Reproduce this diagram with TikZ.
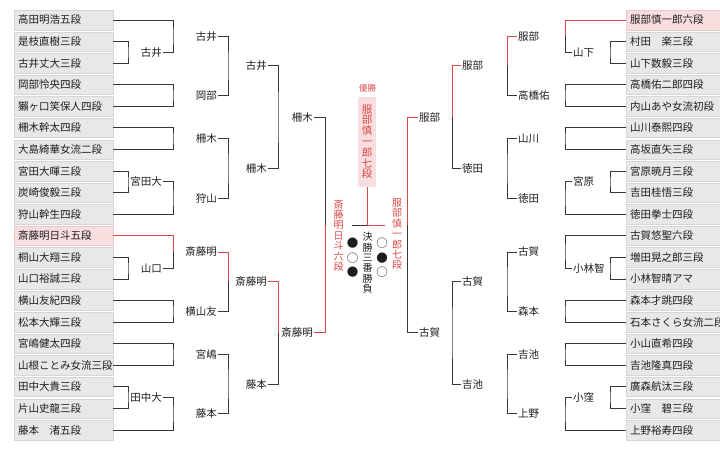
\documentclass[tikz,border=0pt]{standalone}
\usepackage{fontspec}
\setmainfont{Noto Sans CJK JP}
\usepackage{xcolor}
\definecolor{ink}{RGB}{30,30,30}
\definecolor{wire}{RGB}{55,55,55}
\definecolor{winred}{RGB}{218,72,72}
\definecolor{boxgray}{RGB}{232,232,232}
\definecolor{boxedge}{RGB}{214,214,214}
\definecolor{boxpink}{RGB}{248,222,222}
\definecolor{pinkedge}{RGB}{238,200,200}
\tikzset{
  tnbox/.style={draw=boxedge, fill=boxgray, anchor=west, minimum height=19.5pt, text width=91pt, inner sep=4pt, align=left, font=\fontsize{10.5}{12}\selectfont, text=ink},
  tnplain/.style={},
  tnwin/.style={fill=boxpink, draw=pinkedge},
  tnlabel/.style={inner sep=1pt, font=\fontsize{10.5}{12}\selectfont, text=ink},
  tnline/.style={draw=wire, line width=0.9pt},
  tnred/.style={draw=winred, line width=0.9pt},
  tntate/.style={align=center, inner sep=0pt, font=\fontsize{10}{10.4}\selectfont},
}

\begin{document}
\begin{tikzpicture}[x=1pt, y=-1pt]
  \useasboundingbox (0,0) rectangle (720,459);
  \clip (0,0) rectangle (720,459);

  % players
  \foreach \s/\t [count=\i] in {tnplain/高田明浩五段, tnplain/是枝直樹三段, tnplain/古井丈大三段, tnplain/岡部怜央四段, tnplain/獺ヶ口笑保人四段,
      tnplain/柵木幹太四段, tnplain/大島綺華女流二段, tnplain/宮田大暉三段, tnplain/炭崎俊毅三段, tnplain/狩山幹生四段,
      tnwin/斎藤明日斗五段, tnplain/桐山大翔三段, tnplain/山口裕誠三段, tnplain/横山友紀四段, tnplain/松本大輝三段,
      tnplain/宮嶋健太四段, tnplain/山根ことみ女流三段, tnplain/田中大貴三段, tnplain/片山史龍三段, tnplain/藤本　渚五段}
    \node[tnbox, \s] (L\i) at (14, {20+(\i-1)*21.58}) {\t};
  \foreach \s/\t [count=\i] in {tnwin/服部慎一郎六段, tnplain/村田　楽三段, tnplain/山下数毅三段, tnplain/高橋佑二郎四段, tnplain/内山あや女流初段,
      tnplain/山川泰熙四段, tnplain/高坂直矢三段, tnplain/宮原暁月三段, tnplain/吉田桂悟三段, tnplain/徳田拳士四段,
      tnplain/古賀悠聖六段, tnplain/増田晃之郎三段, tnplain/小林智晴アマ, tnplain/森本才跳四段, tnplain/石本さくら女流二段,
      tnplain/小山直希四段, tnplain/吉池隆真四段, tnplain/廣森航汰三段, tnplain/小窪　碧三段, tnplain/上野裕寿四段}
    \node[tnbox, \s] (R\i) at (626, {20+(\i-1)*21.58}) {\t};

  % left winners
  \node[tnlabel, anchor=east] (la1) at (163,52.4) {古井};
  \node[tnlabel, anchor=east] (la2) at (163,181.9) {宮田大};
  \node[tnlabel, anchor=east] (la3) at (163,268.2) {山口};
  \node[tnlabel, anchor=east] (la4) at (163,397.6) {田中大};
  \node[tnlabel, anchor=east] (lb1) at (218,36.2) {古井};
  \node[tnlabel, anchor=east] (lb2) at (218,95.5) {岡部};
  \node[tnlabel, anchor=east] (lb3) at (218,138.7) {柵木};
  \node[tnlabel, anchor=east] (lb4) at (218,198.05) {狩山};
  \node[tnlabel, anchor=east] (lb5) at (218,252) {斎藤明};
  \node[tnlabel, anchor=east] (lb6) at (218,311.3) {横山友};
  \node[tnlabel, anchor=east] (lb7) at (218,354.5) {宮嶋};
  \node[tnlabel, anchor=east] (lb8) at (218,413.8) {藤本};
  \node[tnlabel, anchor=east] (lc1) at (268,65.85) {古井};
  \node[tnlabel, anchor=east] (lc2) at (268,168.4) {柵木};
  \node[tnlabel, anchor=east] (lc3) at (268,281.65) {斎藤明};
  \node[tnlabel, anchor=east] (lc4) at (268,384.15) {藤本};
  \node[tnlabel, anchor=east] (ld1) at (314,117.1) {柵木};
  \node[tnlabel, anchor=east] (ld2) at (314,332.9) {斎藤明};

  % right winners
  \node[tnlabel, anchor=west] (ra1) at (572,52.4) {山下};
  \node[tnlabel, anchor=west] (ra2) at (572,181.9) {宮原};
  \node[tnlabel, anchor=west] (ra3) at (572,268.2) {小林智};
  \node[tnlabel, anchor=west] (ra4) at (572,397.6) {小窪};
  \node[tnlabel, anchor=west] (rb1) at (517,36.2) {服部};
  \node[tnlabel, anchor=west] (rb2) at (517,95.5) {高橋佑};
  \node[tnlabel, anchor=west] (rb3) at (517,138.7) {山川};
  \node[tnlabel, anchor=west] (rb4) at (517,198.05) {徳田};
  \node[tnlabel, anchor=west] (rb5) at (517,252) {古賀};
  \node[tnlabel, anchor=west] (rb6) at (517,311.3) {森本};
  \node[tnlabel, anchor=west] (rb7) at (517,354.5) {吉池};
  \node[tnlabel, anchor=west] (rb8) at (517,413.8) {上野};
  \node[tnlabel, anchor=west] (rc1) at (461,65.85) {服部};
  \node[tnlabel, anchor=west] (rc2) at (461,168.4) {徳田};
  \node[tnlabel, anchor=west] (rc3) at (461,281.65) {古賀};
  \node[tnlabel, anchor=west] (rc4) at (461,384.15) {吉池};
  \node[tnlabel, anchor=west] (rd1) at (418,117.1) {服部};
  \node[tnlabel, anchor=west] (rd2) at (418,332.9) {古賀};

  % bracket joints
  \coordinate (ja1) at (128,52.4);   \coordinate (ja2) at (128,181.9);
  \coordinate (ja3) at (128,268.2);  \coordinate (ja4) at (128,397.6);
  \coordinate (jb1) at (173,36.2);   \coordinate (jb2) at (173,95.5);
  \coordinate (jb3) at (173,138.7);  \coordinate (jb4) at (173,198.05);
  \coordinate (jb5) at (173,252);    \coordinate (jb6) at (173,311.3);
  \coordinate (jb7) at (173,354.5);  \coordinate (jb8) at (173,413.8);
  \coordinate (jc1) at (228,65.85);  \coordinate (jc2) at (228,168.4);
  \coordinate (jc3) at (228,281.65); \coordinate (jc4) at (228,384.15);
  \coordinate (jd1) at (278,117.1);  \coordinate (jd2) at (278,332.9);
  \coordinate (je) at (325,225);
  \coordinate (ka1) at (610,52.4);   \coordinate (ka2) at (610,181.9);
  \coordinate (ka3) at (610,268.2);  \coordinate (ka4) at (610,397.6);
  \coordinate (kb1) at (565,36.2);   \coordinate (kb2) at (565,95.5);
  \coordinate (kb3) at (565,138.7);  \coordinate (kb4) at (565,198.05);
  \coordinate (kb5) at (565,252);    \coordinate (kb6) at (565,311.3);
  \coordinate (kb7) at (565,354.5);  \coordinate (kb8) at (565,413.8);
  \coordinate (kc1) at (507,65.85);  \coordinate (kc2) at (507,168.4);
  \coordinate (kc3) at (507,281.65); \coordinate (kc4) at (507,384.15);
  \coordinate (kd1) at (452,117.1);  \coordinate (kd2) at (452,332.9);
  \coordinate (ke) at (407,225);

  % left side
  \draw[tnline] (L2.east) -| (ja1) |- (L3.east);
  \draw[tnline] (L8.east) -| (ja2) |- (L9.east);
  \draw[tnline] (L12.east) -| (ja3) |- (L13.east);
  \draw[tnline] (L18.east) -| (ja4) |- (L19.east);
  \draw[tnline] (L1.east) -| (jb1) |- (la1.east);
  \draw[tnline] (L4.east) -| (jb2) |- (L5.east);
  \draw[tnline] (L6.east) -| (jb3) |- (L7.east);
  \draw[tnline] (la2.east) -| (jb4) |- (L10.east);
  \draw[tnred] (L11.east) -| (jb5);
  \draw[tnline] (la3.east) -| (jb5);
  \draw[tnline] (L14.east) -| (jb6) |- (L15.east);
  \draw[tnline] (L16.east) -| (jb7) |- (L17.east);
  \draw[tnline] (la4.east) -| (jb8) |- (L20.east);
  \draw[tnline] (lb1.east) -| (jc1) |- (lb2.east);
  \draw[tnline] (lb3.east) -| (jc2) |- (lb4.east);
  \draw[tnred] (lb5.east) -| (jc3);
  \draw[tnline] (lb6.east) -| (jc3);
  \draw[tnline] (lb7.east) -| (jc4) |- (lb8.east);
  \draw[tnline] (lc1.east) -| (jd1) |- (lc2.east);
  \draw[tnred] (lc3.east) -| (jd2);
  \draw[tnline] (lc4.east) -| (jd2);
  \draw[tnline] (ld1.east) -| (je);
  \draw[tnred] (ld2.east) -| (je);

  % right side
  \draw[tnline] (R2.west) -| (ka1) |- (R3.west);
  \draw[tnline] (R8.west) -| (ka2) |- (R9.west);
  \draw[tnline] (R12.west) -| (ka3) |- (R13.west);
  \draw[tnline] (R18.west) -| (ka4) |- (R19.west);
  \draw[tnred] (R1.west) -| (kb1);
  \draw[tnline] (ra1.west) -| (kb1);
  \draw[tnline] (R4.west) -| (kb2) |- (R5.west);
  \draw[tnline] (R6.west) -| (kb3) |- (R7.west);
  \draw[tnline] (ra2.west) -| (kb4) |- (R10.west);
  \draw[tnline] (R11.west) -| (kb5) |- (ra3.west);
  \draw[tnline] (R14.west) -| (kb6) |- (R15.west);
  \draw[tnline] (R16.west) -| (kb7) |- (R17.west);
  \draw[tnline] (ra4.west) -| (kb8) |- (R20.west);
  \draw[tnred] (rb1.west) -| (kc1);
  \draw[tnline] (rb2.west) -| (kc1);
  \draw[tnline] (rb3.west) -| (kc2) |- (rb4.west);
  \draw[tnline] (rb5.west) -| (kc3) |- (rb6.west);
  \draw[tnline] (rb7.west) -| (kc4) |- (rb8.west);
  \draw[tnred] (rc1.west) -| (kd1);
  \draw[tnline] (rc2.west) -| (kd1);
  \draw[tnline] (rc3.west) -| (kd2) |- (rc4.west);
  \draw[tnred] (rd1.west) -| (ke);
  \draw[tnline] (rd2.west) -| (ke);

  % final
  \node[text=winred, inner sep=0pt, font=\fontsize{8.5}{9}\selectfont] (yusho) at (367.5,88.5) {優勝};
  \node[tntate, text=winred, fill=boxpink, minimum width=18pt, minimum height=90pt, font=\fontsize{10.5}{10.8}\selectfont] (champ) at (367,141.7) {服\\部\\慎\\一\\郎\\七\\段};
  \node[tntate, text=winred] (fa) at (338.5,235.5) {斎\\藤\\明\\日\\斗\\六\\段};
  \node[tntate, text=winred] (fb) at (397,234) {服\\部\\慎\\一\\郎\\七\\段};
  \node[tntate, text=ink] (bo) at (367.5,263) {決\\勝\\三\\番\\勝\\負};
  \node[tntate, text=ink, font=\fontsize{11.5}{14.2}\selectfont] (ca) at (352.5,257.7) {●\\○\\●};
  \node[tntate, text=ink, font=\fontsize{11.5}{14.2}\selectfont] (cb) at (382,257.7) {○\\●\\○};
  \coordinate (fm) at (367,225);
  \coordinate (fl) at (352,225);
  \coordinate (fr) at (385,225);
  \draw[tnline] (fl) -- (fm);
  \draw[tnred] (fm) -- (fr);
  \draw[tnred] (champ.south) -- (fm);
\end{tikzpicture}
\end{document}
